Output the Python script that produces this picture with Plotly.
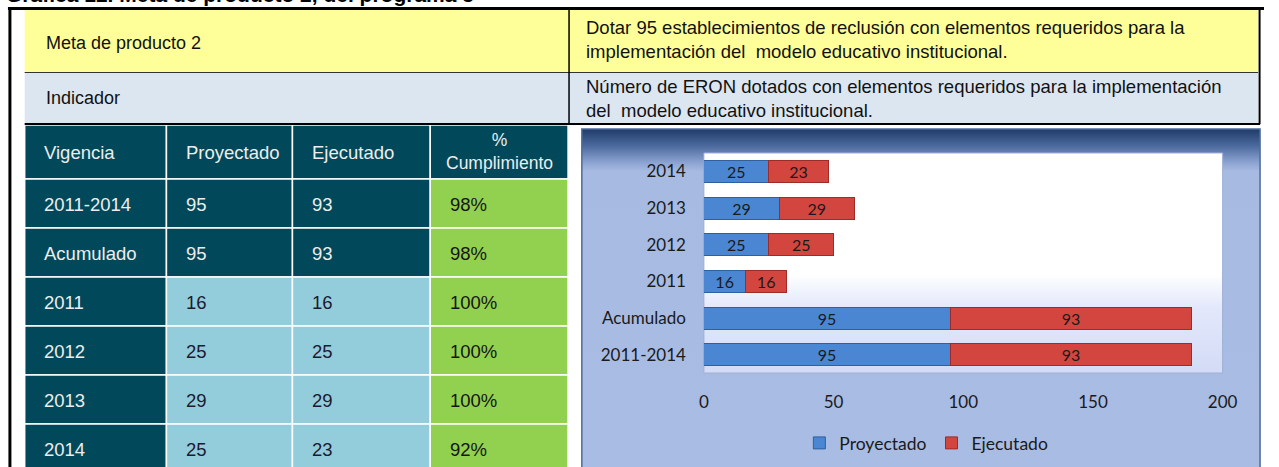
import base64
import plotly.graph_objects as go

W, H = 1279, 467

# ---- data ----
vigencia = ["2011-2014", "Acumulado", "2011", "2012", "2013", "2014"]
proyectado = [95, 95, 16, 25, 29, 25]
ejecutado = [93, 93, 16, 25, 29, 23]
cumplimiento = ["98%", "98%", "100%", "100%", "100%", "92%"]
col_headers = ["Vigencia", "Proyectado", "Ejecutado", "%<br>Cumplimiento"]
x_ticks = [0, 50, 100, 150, 200]

titulo = "Gráfica 12. Meta de producto 2, del programa 5"
meta_label = "Meta de producto 2"
meta_text = ("Dotar 95 establecimientos de reclusión con elementos requeridos para la<br>"
             "implementación del  modelo educativo institucional.")
ind_label = "Indicador"
ind_text = ("Número de ERON dotados con elementos requeridos para la implementación<br>"
            "del  modelo educativo institucional.")

TABLE_FONT = "Liberation Sans, Arial, sans-serif"
CHART_FONT = "Lato, Open Sans, sans-serif"
TEAL = "#01495A"
LIGHT = "#93CDDC"
GREEN = "#92D050"


# positions below are in reference pixels, turned into paper fractions
def fx(x):
    return x / W


def fy(y):
    return 1 - y / H


shapes = []
annotations = []
images = []


def rect(x0, y0, x1, y1, fill, line="rgba(0,0,0,0)", lw=0):
    shapes.append(dict(type="rect", xref="paper", yref="paper",
                       x0=fx(x0), x1=fx(x1), y0=fy(y1), y1=fy(y0),
                       fillcolor=fill, line=dict(color=line, width=lw), layer="below"))


def hline(x0, x1, y, color="#000", lw=1.5):
    shapes.append(dict(type="line", xref="paper", yref="paper",
                       x0=fx(x0), x1=fx(x1), y0=fy(y), y1=fy(y),
                       line=dict(color=color, width=lw)))


def vline(x, y0, y1, color="#000", lw=1.5):
    shapes.append(dict(type="line", xref="paper", yref="paper",
                       x0=fx(x), x1=fx(x), y0=fy(y0), y1=fy(y1),
                       line=dict(color=color, width=lw)))


def text(x, y, s, size=18.5, color="#111", anchor="left", family=TABLE_FONT):
    annotations.append(dict(xref="paper", yref="paper", x=fx(x), y=fy(y),
                            text=s, showarrow=False, xanchor=anchor, yanchor="middle",
                            align=anchor, font=dict(family=family, size=size, color=color)))


def vgrad(stops):
    # vertical gradient as an svg data uri, used as a background image
    st = "".join(f'<stop offset="{o}" stop-color="{c}"/>' for o, c in stops)
    svg = ('<svg xmlns="http://www.w3.org/2000/svg" width="100" height="100" viewBox="0 0 100 100" '
           'preserveAspectRatio="none"><defs><linearGradient id="g" x1="0" y1="0" x2="0" y2="1">'
           f'{st}</linearGradient></defs><rect width="100" height="100" fill="url(#g)"/></svg>')
    return "data:image/svg+xml;base64," + base64.b64encode(svg.encode()).decode()


def grad_box(x0, y0, x1, y1, stops):
    images.append(dict(source=vgrad(stops), xref="paper", yref="paper",
                       x=fx(x0), y=fy(y0), sizex=(x1 - x0) / W, sizey=(y1 - y0) / H,
                       xanchor="left", yanchor="top", sizing="stretch", layer="below"))


# ---- header rows (yellow / grey) ----
rect(20, 10, 1273, 72, "#FFFF99")
rect(20, 72, 1273, 124, "#DCE6F1")
hline(20, 1273, 72.5, "#333", 1.2)
hline(20, 1275, 124, "#000", 2)
vline(573, 10, 124, "#000", 1.5)
text(40, 43, meta_label, 18)
text(588, 40, meta_text, 18.5)
text(40, 98, ind_label, 18)
text(588, 98, ind_text, 18.5)

# outer frame
hline(3, 1279, 8.5, "#000", 3)
vline(5, 7, 467, "#000", 3)
vline(1274.5, 8, 124, "#000", 2)

# title, cut off by the top edge
annotations.append(dict(xref="paper", yref="paper", x=0, y=fy(7), text=f"<b>{titulo}</b>",
                        showarrow=False, xanchor="left", yanchor="bottom", borderpad=0,
                        font=dict(family=TABLE_FONT, size=21, color="#000")))

# ---- table ----
col_x = [20, 164, 292, 432, 572]
hdr_top, hdr_bot, row_h = 125, 179, 49
pad = 18

for j, h in enumerate(col_headers):
    rect(col_x[j], hdr_top, col_x[j + 1], hdr_bot, TEAL, "white", 1.5)
    if j == 3:
        text((col_x[j] + col_x[j + 1]) / 2, (hdr_top + hdr_bot) / 2 - 1, h, 17.5, "#EDEDED", "center")
    else:
        text(col_x[j] + pad, (hdr_top + hdr_bot) / 2, h, 18.5, "#EDEDED")

for i, v in enumerate(vigencia):
    y0 = hdr_bot + i * row_h
    y1 = y0 + row_h
    cells = [v, str(proyectado[i]), str(ejecutado[i]), cumplimiento[i]]
    for j, c in enumerate(cells):
        if j == 3:
            fill, tc = GREEN, "#151515"
        elif j == 0 or i < 2:
            fill, tc = TEAL, "#EDEDED"
        else:
            fill, tc = LIGHT, "#1B1B30"
        rect(col_x[j], y0, col_x[j + 1], y1, fill, "white", 1.5)
        text(col_x[j] + pad, (y0 + y1) / 2 + 1, c, 18.5, tc)

# ---- chart frame and plot area backgrounds ----
grad_box(586, 129, 1275, 470, [(0, "#1F3B69"), (0.05, "#4C6A9E"), (0.1, "#8EA5D3"),
                               (0.125, "#A7BAE1"), (1, "#A9BCE3")])
rect(586, 129, 1275, 470, "rgba(0,0,0,0)", "#4E6A9A", 1.5)
grad_box(710, 153, 1237, 373, [(0, "#FFFFFF"), (0.55, "#FFFFFF"), (0.7, "#E3E8FB"), (1, "#D3DBF6")])
rect(710, 153, 1237, 373, "rgba(0,0,0,0)", "#9FB0D6", 1)

# ---- bars ----
fig = go.Figure()
fig.add_trace(go.Bar(
    y=vigencia, x=proyectado, orientation="h", name="Proyectado",
    marker=dict(color="#4A86D2", line=dict(color="#2F5F9F", width=1)),
    text=proyectado, textposition="inside", insidetextanchor="middle", textangle=0,
    constraintext="none",
    textfont=dict(family=CHART_FONT, size=16, color="#1A1A1A"), width=0.6,
))
fig.add_trace(go.Bar(
    y=vigencia, x=ejecutado, orientation="h", name="Ejecutado",
    marker=dict(color="#D3453F", line=dict(color="#9E2B27", width=1)),
    text=ejecutado, textposition="inside", insidetextanchor="middle", textangle=0,
    constraintext="none",
    textfont=dict(family=CHART_FONT, size=16, color="#1A1A1A"), width=0.6,
))

fig.update_layout(
    width=W, height=H, autosize=False,
    margin=dict(l=0, r=0, t=0, b=0),
    paper_bgcolor="white",
    plot_bgcolor="rgba(0,0,0,0)",
    barmode="stack",
    showlegend=True,
    legend=dict(orientation="h", x=fx(936), xanchor="center", y=fy(443), yanchor="middle",
                font=dict(family=CHART_FONT, size=17.5, color="#1A1A1A"),
                bgcolor="rgba(0,0,0,0)", itemwidth=30, traceorder="normal"),
    xaxis=dict(domain=[fx(710), fx(1237)], range=[0, 200], tickvals=x_ticks,
               showgrid=False, zeroline=False, showline=False, ticks="",
               ticklabelstandoff=17, tickfont=dict(family=CHART_FONT, size=17, color="#1A1A1A"),
               fixedrange=True),
    yaxis=dict(domain=[fy(373), fy(153)], type="category", categoryorder="array",
               categoryarray=vigencia, range=[-0.5, 5.5],
               showgrid=False, zeroline=False, showline=False, ticks="",
               ticklabelstandoff=17, tickfont=dict(family=CHART_FONT, size=17, color="#1A1A1A"),
               fixedrange=True),
    shapes=shapes,
    annotations=annotations,
    images=images,
)

# fixed size page: no default body margin, no scrollbars, no modebar
fig.write_html("out.html",
               config=dict(responsive=False, displayModeBar=False),
               post_script="document.body.style.margin='0';document.body.style.overflow='hidden';")
